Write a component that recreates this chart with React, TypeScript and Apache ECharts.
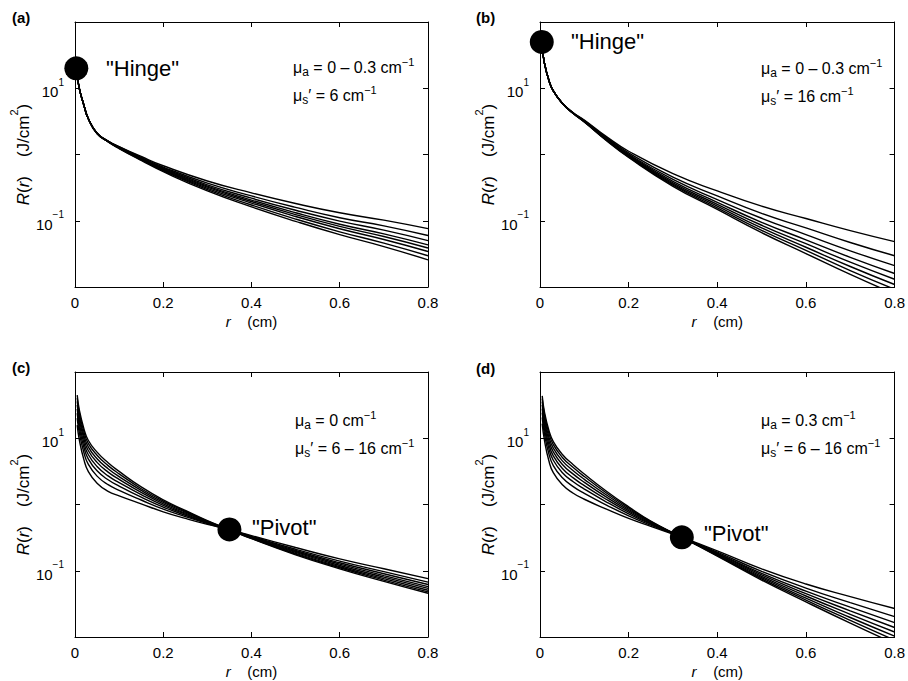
import React, { useEffect, useRef } from 'react';
import * as echarts from 'echarts';

// ---- radial positions (cm) ----
const rA = [0.005, 0.01, 0.02, 0.03, 0.05, 0.075, 0.1, 0.15, 0.2, 0.3, 0.4, 0.5, 0.6, 0.7, 0.8];
const rB = [0.005, 0.01, 0.02, 0.03, 0.05, 0.075, 0.1, 0.15, 0.2, 0.3, 0.4, 0.5, 0.6, 0.7, 0.8];
const rC = [0.005, 0.01, 0.02, 0.03, 0.05, 0.075, 0.1, 0.15, 0.2, 0.25, 0.3, 0.35, 0.4, 0.5, 0.6, 0.7, 0.8];
const rD = [0.005, 0.01, 0.02, 0.03, 0.05, 0.075, 0.1, 0.15, 0.2, 0.25, 0.32, 0.4, 0.5, 0.6, 0.7, 0.8];

// ---- panel (a): mu_a = 0 - 0.3, mu_s' = 6 ----
const a1 = [16, 9.8, 5.6, 3.5, 2.1, 1.6, 1.32, 0.933, 0.676, 0.398, 0.263, 0.182, 0.132, 0.102, 0.0759];
const a2 = [16, 9.8, 5.6, 3.5, 2.1, 1.59, 1.3, 0.906, 0.646, 0.369, 0.237, 0.159, 0.111, 0.0836, 0.0598];
const a3 = [16, 9.8, 5.6, 3.5, 2.09, 1.58, 1.29, 0.885, 0.625, 0.349, 0.219, 0.144, 0.0989, 0.0721, 0.0502];
const a4 = [16, 9.8, 5.6, 3.5, 2.09, 1.58, 1.27, 0.869, 0.607, 0.333, 0.205, 0.132, 0.0887, 0.0634, 0.0433];
const a5 = [16, 9.8, 5.6, 3.5, 2.08, 1.57, 1.26, 0.857, 0.594, 0.321, 0.195, 0.124, 0.0822, 0.0578, 0.0388];
const a6 = [16, 9.8, 5.6, 3.5, 2.08, 1.56, 1.25, 0.843, 0.581, 0.309, 0.185, 0.116, 0.0757, 0.0522, 0.0344];
const a7 = [16, 9.8, 5.6, 3.5, 2.07, 1.56, 1.24, 0.828, 0.565, 0.295, 0.173, 0.106, 0.0681, 0.0459, 0.0296];
const a8 = [16, 9.8, 5.6, 3.5, 2.07, 1.55, 1.23, 0.813, 0.55, 0.282, 0.162, 0.098, 0.0617, 0.0407, 0.0257];

// ---- panel (b): mu_a = 0 - 0.3, mu_s' = 16 ----
const b1 = [42, 24, 13.2, 9.1, 6.0, 4.27, 3.31, 1.86, 1.12, 0.513, 0.282, 0.166, 0.108, 0.0708, 0.0484];
const b2 = [42, 24, 13.2, 9.1, 6.0, 4.24, 3.25, 1.8, 1.06, 0.456, 0.237, 0.129, 0.078, 0.047, 0.0296];
const b3 = [42, 24, 13.2, 9.1, 6.0, 4.22, 3.21, 1.75, 1.01, 0.42, 0.209, 0.109, 0.0618, 0.0352, 0.021];
const b4 = [42, 24, 13.2, 9.1, 5.98, 4.2, 3.18, 1.71, 0.982, 0.393, 0.19, 0.0946, 0.0515, 0.028, 0.016];
const b5 = [42, 24, 13.2, 9.1, 5.97, 4.19, 3.15, 1.69, 0.959, 0.374, 0.177, 0.0855, 0.045, 0.0237, 0.0131];
const b6 = [42, 24, 13.2, 9.1, 5.96, 4.18, 3.13, 1.66, 0.938, 0.358, 0.166, 0.078, 0.0398, 0.0204, 0.0109];
const b7 = [42, 24, 13.2, 9.1, 5.95, 4.17, 3.11, 1.64, 0.92, 0.344, 0.157, 0.0718, 0.0357, 0.0177, 0.00925];
const b8 = [42, 24, 13.2, 9.1, 5.94, 4.15, 3.09, 1.62, 0.902, 0.331, 0.148, 0.0661, 0.032, 0.0155, 0.00785];

// ---- panel (c): mu_a = 0, mu_s' = 16 ... 6 ----
const c1 = [44.7, 26.3, 14.1, 9.33, 6.17, 4.27, 3.16, 1.84, 1.175, 0.813, 0.569, 0.417, 0.305, 0.174, 0.107, 0.0692, 0.0457];
const c2 = [40.3, 23.7, 12.7, 8.38, 5.53, 3.86, 2.9, 1.73, 1.127, 0.791, 0.561, 0.417, 0.308, 0.178, 0.111, 0.0723, 0.0481];
const c3 = [36.0, 21.2, 11.2, 7.43, 4.91, 3.47, 2.64, 1.63, 1.076, 0.767, 0.553, 0.417, 0.312, 0.183, 0.115, 0.0759, 0.0508];
const c4 = [31.8, 18.7, 9.89, 6.53, 4.32, 3.08, 2.39, 1.52, 1.026, 0.741, 0.546, 0.417, 0.316, 0.189, 0.12, 0.08, 0.0541];
const c5 = [27.7, 16.3, 8.59, 5.68, 3.75, 2.7, 2.14, 1.41, 0.971, 0.716, 0.537, 0.417, 0.321, 0.195, 0.126, 0.0845, 0.0577];
const c6 = [24.0, 14.1, 7.38, 4.88, 3.22, 2.36, 1.9, 1.29, 0.916, 0.689, 0.527, 0.417, 0.325, 0.202, 0.132, 0.09, 0.0619];
const c7 = [20.1, 11.9, 6.14, 4.06, 2.68, 1.99, 1.64, 1.17, 0.853, 0.658, 0.516, 0.417, 0.331, 0.211, 0.14, 0.0968, 0.0675];
const c8 = [15.8, 9.33, 4.79, 3.16, 2.09, 1.58, 1.35, 1.02, 0.776, 0.617, 0.501, 0.417, 0.339, 0.224, 0.151, 0.107, 0.0759];

// ---- panel (d): mu_a = 0.3, mu_s' = 16 ... 6 ----
const d1 = [43.7, 25.1, 13.2, 8.91, 5.75, 3.98, 2.88, 1.585, 0.923, 0.562, 0.32, 0.166, 0.0724, 0.0339, 0.0162, 0.00794];
const d2 = [39.6, 22.8, 11.9, 8.0, 5.18, 3.61, 2.64, 1.49, 0.886, 0.552, 0.32, 0.169, 0.0753, 0.0361, 0.0178, 0.00897];
const d3 = [35.6, 20.4, 10.5, 7.1, 4.6, 3.24, 2.4, 1.39, 0.847, 0.541, 0.32, 0.173, 0.0787, 0.0386, 0.0197, 0.0103];
const d4 = [31.7, 18.1, 9.29, 6.24, 4.06, 2.87, 2.16, 1.29, 0.807, 0.53, 0.32, 0.176, 0.0824, 0.0416, 0.022, 0.0119];
const d5 = [28.0, 15.9, 8.09, 5.42, 3.53, 2.52, 1.93, 1.19, 0.766, 0.516, 0.32, 0.181, 0.0867, 0.0451, 0.0248, 0.0139];
const d6 = [24.4, 13.9, 6.98, 4.66, 3.05, 2.2, 1.71, 1.09, 0.724, 0.504, 0.32, 0.185, 0.0916, 0.0492, 0.0282, 0.0165];
const d7 = [20.7, 11.7, 5.83, 3.87, 2.55, 1.86, 1.47, 0.982, 0.676, 0.488, 0.32, 0.191, 0.098, 0.0547, 0.033, 0.0203];
const d8 = [16.6, 9.33, 4.57, 3.02, 2.0, 1.48, 1.2, 0.851, 0.617, 0.468, 0.32, 0.2, 0.107, 0.0631, 0.0407, 0.0269];

// ---- marker points ("Hinge" / "Pivot") ----
const hingeA = [0.003, 20];
const hingeB = [0.004, 50];
const pivotC = [0.35, 0.42];
const pivotD = [0.32, 0.32];

// ---- tick labels ----
const xTicks = [0, 0.2, 0.4, 0.6, 0.8];
const yLabelled: Record<number, string> = { 1: '1', [-1]: '−1' };

const FONT = "'Liberation Sans', Arial, Helvetica, sans-serif";

const panels = [
  { grid: { left: 75, top: 22, width: 353, height: 265 }, r: rA, curves: [a1, a2, a3, a4, a5, a6, a7, a8], marker: hingeA },
  { grid: { left: 540, top: 22, width: 355, height: 265 }, r: rB, curves: [b1, b2, b3, b4, b5, b6, b7, b8], marker: hingeB },
  { grid: { left: 75, top: 372, width: 353, height: 265 }, r: rC, curves: [c1, c2, c3, c4, c5, c6, c7, c8], marker: pivotC },
  { grid: { left: 540, top: 372, width: 355, height: 265 }, r: rD, curves: [d1, d2, d3, d4, d5, d6, d7, d8], marker: pivotD },
];

const annoRich = {
  m: { fontSize: 16, fontFamily: FONT, color: '#000', lineHeight: 22, verticalAlign: 'middle' },
  sub: { fontSize: 12, fontFamily: FONT, color: '#000', lineHeight: 12, verticalAlign: 'bottom' },
  sup: { fontSize: 11, fontFamily: FONT, color: '#000', lineHeight: 10, verticalAlign: 'top' },
};

function anno(text: string, x: number, y: number) {
  return {
    type: 'text',
    x,
    y,
    silent: true,
    style: { text, rich: annoRich, verticalAlign: 'middle', align: 'left', fill: '#000', font: `16px ${FONT}` },
  };
}

function bigText(text: string, x: number, y: number) {
  return {
    type: 'text',
    x,
    y,
    silent: true,
    style: { text, fill: '#000', font: `22px ${FONT}`, verticalAlign: 'middle', align: 'left' },
  };
}

function panelLabel(text: string, x: number, y: number) {
  return {
    type: 'text',
    x,
    y,
    silent: true,
    style: { text, fill: '#000', font: `bold 15px ${FONT}`, verticalAlign: 'middle', align: 'left' },
  };
}

export default function App() {
  const ref = useRef<HTMLDivElement>(null);

  useEffect(() => {
    if (!ref.current) return;
    const chart = echarts.init(ref.current, null, { renderer: 'svg' });

    const grid: any[] = [];
    const xAxis: any[] = [];
    const yAxis: any[] = [];
    const series: any[] = [];

    const lineAx = { show: true, onZero: false, lineStyle: { color: '#000', width: 1 } };
    const tickAx = { show: true, inside: true, length: 5, lineStyle: { color: '#000', width: 1 } };

    panels.forEach((p, i) => {
      grid.push({ ...p.grid, containLabel: false });
      xAxis.push({
        type: 'value',
        gridIndex: i,
        position: 'bottom',
        min: 0,
        max: 0.8,
        interval: 0.2,
        axisLine: lineAx,
        axisTick: tickAx,
        splitLine: { show: false },
        axisLabel: {
          color: '#000',
          fontSize: 15,
          fontFamily: FONT,
          margin: 8,
          formatter: (v: number) => {
            const t = xTicks.find((k) => Math.abs(k - v) < 1e-6);
            return t === undefined ? '' : t === 0 ? '0' : String(t);
          },
        },
        name: '{i|r}    (cm)',
        nameLocation: 'middle',
        nameGap: 27,
        nameTextStyle: {
          color: '#000',
          fontSize: 15,
          fontFamily: FONT,
          rich: { i: { fontStyle: 'italic', fontSize: 15, fontFamily: FONT, color: '#000' } },
        },
      });
      xAxis.push({
        type: 'value',
        gridIndex: i,
        position: 'top',
        min: 0,
        max: 0.8,
        interval: 0.2,
        axisLine: lineAx,
        axisTick: tickAx,
        splitLine: { show: false },
        axisLabel: { show: false },
      });
      yAxis.push({
        type: 'log',
        logBase: 10,
        gridIndex: i,
        position: 'left',
        min: 0.01,
        max: 100,
        axisLine: lineAx,
        axisTick: tickAx,
        splitLine: { show: false },
        axisLabel: {
          color: '#000',
          fontSize: 15,
          fontFamily: FONT,
          margin: 11,
          formatter: (v: number) => {
            const e = Math.round(Math.log10(v));
            const s = yLabelled[e];
            return s ? `{b|10}{s|${s}}` : '';
          },
          rich: {
            b: { fontSize: 15, fontFamily: FONT, color: '#000', lineHeight: 22, verticalAlign: 'bottom' },
            s: { fontSize: 10, fontFamily: FONT, color: '#000', lineHeight: 10, verticalAlign: 'top' },
          },
        },
        name: '{i|R}{n|(}{i|r}{n|)    (J/cm}{s|2}{n|)}',
        nameLocation: 'middle',
        nameGap: 42,
        nameTextStyle: {
          color: '#000',
          fontSize: 17,
          fontFamily: FONT,
          rich: {
            i: { fontStyle: 'italic', fontSize: 17, fontFamily: FONT, color: '#000', lineHeight: 24, verticalAlign: 'bottom' },
            n: { fontSize: 17, fontFamily: FONT, color: '#000', lineHeight: 24, verticalAlign: 'bottom' },
            s: { fontSize: 11, fontFamily: FONT, color: '#000', lineHeight: 11, verticalAlign: 'top' },
          },
        },
      });
      yAxis.push({
        type: 'log',
        logBase: 10,
        gridIndex: i,
        position: 'right',
        min: 0.01,
        max: 100,
        axisLine: lineAx,
        axisTick: tickAx,
        splitLine: { show: false },
        axisLabel: { show: false },
      });

      p.curves.forEach((c) => {
        series.push({
          type: 'line',
          xAxisIndex: 2 * i,
          yAxisIndex: 2 * i,
          data: p.r.map((x, k) => [x, c[k]]),
          symbol: 'none',
          showSymbol: false,
          smooth: 0.5,
          clip: true,
          silent: true,
          lineStyle: { color: '#000', width: 1.4 },
        });
      });
      series.push({
        type: 'scatter',
        xAxisIndex: 2 * i,
        yAxisIndex: 2 * i,
        data: [p.marker],
        symbol: 'circle',
        symbolSize: 24,
        clip: false,
        silent: true,
        z: 5,
        itemStyle: { color: '#000', opacity: 1 },
      });
    });

    const graphic = [
      panelLabel('(a)', 12, 17),
      panelLabel('(b)', 476, 17),
      panelLabel('(c)', 12, 367),
      panelLabel('(d)', 476, 368),
      bigText('"Hinge"', 106, 68),
      bigText('"Hinge"', 571, 41),
      bigText('"Pivot"', 252, 527),
      bigText('"Pivot"', 704, 533),
      anno('{m|μ}{sub|a}{m| = 0 – 0.3 cm}{sup|−1}', 293, 67),
      anno('{m|μ}{sub|s}{m|′ = 6 cm}{sup|−1}', 293, 95),
      anno('{m|μ}{sub|a}{m| = 0 – 0.3 cm}{sup|−1}', 761, 68),
      anno('{m|μ}{sub|s}{m|′ = 16 cm}{sup|−1}', 761, 96),
      anno('{m|μ}{sub|a}{m| = 0 cm}{sup|−1}', 295, 420),
      anno('{m|μ}{sub|s}{m|′ = 6 – 16 cm}{sup|−1}', 295, 448),
      anno('{m|μ}{sub|a}{m| = 0.3 cm}{sup|−1}', 761, 420),
      anno('{m|μ}{sub|s}{m|′ = 6 – 16 cm}{sup|−1}', 761, 448),
    ];

    chart.setOption({
      animation: false,
      backgroundColor: '#ffffff',
      grid,
      xAxis,
      yAxis,
      series,
      graphic,
    });

    return () => chart.dispose();
  }, []);

  return (
    <div
      ref={ref}
      style={{ position: 'fixed', left: 0, top: 0, width: 908, height: 681, background: '#fff' }}
    />
  );
}
